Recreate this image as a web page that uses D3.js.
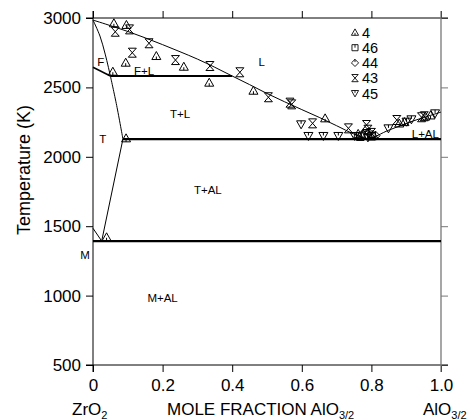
<!DOCTYPE html>
<html><head><meta charset="utf-8">
<script src="https://cdn.jsdelivr.net/npm/d3@7/dist/d3.min.js"></script>
<style>
body{margin:0;background:#fff;}
svg{display:block;font-family:"Liberation Sans",Arial,sans-serif;}
text{fill:#000;}
</style></head>
<body><svg id="c" width="471" height="420"></svg>
<script>
// ---- data ----
const xTicks = [0, 0.2, 0.4, 0.6, 0.8, 1.0];
const xTickLabels = ["0", "0.2", "0.4", "0.6", "0.8", "1.0"];
const yTicks = [500, 1000, 1500, 2000, 2500, 3000];

// phase boundaries [x, T]
const liquidus = [[0,2985],[0.05,2945],[0.10,2903],[0.15,2857],[0.20,2808],[0.25,2757],[0.30,2704],[0.35,2645],[0.40,2582],[0.45,2520],[0.50,2456],[0.55,2397],[0.60,2340],[0.65,2284],[0.70,2224],[0.75,2164],[0.79,2132],[0.85,2192],[0.92,2258],[1.0,2322]];
const fSolidus = [[0,2985],[0.02,2870],[0.035,2740],[0.05,2582]];
const fTBoundary = [[0,2645],[0.05,2582]];
const tSolidus = [[0.05,2582],[0.068,2370],[0.086,2128]];
const tSolvus = [[0.086,2128],[0.025,1393]];
const mTBoundary = [[0,1485],[0.025,1393]];
const peritecticLine = [[0.05,2582],[0.40,2582]];
const eutecticLine = [[0.086,2128],[1.0,2128]];
const eutectoidLine = [[0,1393],[1.0,1393]];

// experimental series [x, T]
const series4 = [[0.060,2962],[0.096,2950],[0.182,2726],[0.094,2678],[0.261,2649],[0.057,2613],[0.334,2534],[0.461,2476],[0.667,2277],[0.095,2133],[0.039,1420],[0.762,2165],[0.805,2160],[0.880,2240],[0.895,2250],[0.955,2290],[0.970,2298]];
const series46 = [[0.768,2145],[0.782,2158],[0.800,2148]];
const series44 = [[0.775,2162],[0.792,2175],[0.812,2152]];
const series43 = [[0.064,2901],[0.105,2918],[0.161,2818],[0.113,2750],[0.237,2697],[0.336,2654],[0.422,2609],[0.504,2429],[0.566,2390],[0.571,2378],[0.631,2241],[0.734,2205],[0.786,2229],[0.790,2195],[0.800,2172],[0.873,2265],[0.944,2285],[0.952,2292]];
const series45 = [[0.598,2234],[0.619,2150],[0.662,2150],[0.705,2150],[0.752,2150],[0.790,2140],[0.849,2205],[0.901,2253],[0.915,2270],[0.983,2313]];
const legendNames = ["4","46","44","43","45"];

// phase labels
const phaseLabels = [["F",0.022,2680],["F+L",0.147,2620],["L",0.485,2680],["T+L",0.25,2310],["T",0.028,2130],["T+AL",0.33,1760],["M",-0.023,1290],["M+AL",0.20,980],["L+AL",0.955,2166]];

// ---- chart ----
const svg = d3.select("#c");
const x = d3.scaleLinear().domain([0,1]).range([93,441]);
const y = d3.scaleLinear().domain([500,3000]).range([365,18]);
const tk = 7;

// axes (ticks outward)
const gB = svg.append("g").attr("transform","translate(0,365)")
  .call(d3.axisBottom(x).tickValues(xTicks).tickFormat((d,i)=>xTickLabels[i]).tickSize(tk).tickSizeOuter(0).tickPadding(7));
const gL = svg.append("g").attr("transform","translate(93,0)")
  .call(d3.axisLeft(y).tickValues(yTicks).tickFormat(d3.format("d")).tickSize(tk).tickSizeOuter(0).tickPadding(5));
const gT = svg.append("g").attr("transform","translate(0,18)")
  .call(d3.axisTop(x).tickValues(xTicks).tickFormat("").tickSize(tk).tickSizeOuter(0));
const gR = svg.append("g").attr("transform","translate(441,0)")
  .call(d3.axisRight(y).tickValues(yTicks).tickFormat("").tickSize(tk).tickSizeOuter(0));
[gB,gL,gT,gR].forEach(g=>{g.select(".domain").remove();g.selectAll("line").attr("stroke","#000").attr("stroke-width",1);
  g.selectAll("text").attr("font-size",17).attr("fill","#000").attr("font-family","Liberation Sans, Arial, sans-serif");});
gR.selectAll("line").attr("stroke","#777");

// frame lines extending past corners
const fr = svg.append("g").attr("fill","none");
fr.append("line").attr("x1",x(0)-tk).attr("x2",x(1)+tk).attr("y1",y(500)).attr("y2",y(500)).attr("stroke","#000");
fr.append("line").attr("x1",x(0)).attr("x2",x(0)).attr("y1",y(3000)-tk).attr("y2",y(500)+tk).attr("stroke","#000");
fr.append("line").attr("x1",x(0)-tk).attr("x2",x(1)+tk).attr("y1",y(3000)).attr("y2",y(3000)).attr("stroke","#000");
fr.append("line").attr("x1",x(1)).attr("x2",x(1)).attr("y1",y(3000)-tk).attr("y2",y(500)+tk).attr("stroke","#777").attr("stroke-width",1.3);

// boundaries
const line = d3.line().x(d=>x(d[0])).y(d=>y(d[1]));
const smooth = d3.line().x(d=>x(d[0])).y(d=>y(d[1])).curve(d3.curveCatmullRom);
const lg = svg.append("g").attr("fill","none").attr("stroke","#000");
lg.append("path").attr("d",smooth(liquidus)).attr("stroke-width",1);
lg.append("path").attr("d",smooth(fSolidus)).attr("stroke-width",1);
lg.append("path").attr("d",line(fTBoundary)).attr("stroke-width",1.5);
lg.append("path").attr("d",smooth(tSolidus)).attr("stroke-width",1);
lg.append("path").attr("d",line(tSolvus)).attr("stroke-width",1);
lg.append("path").attr("d",line(mTBoundary)).attr("stroke-width",1);
lg.append("path").attr("d",line(peritecticLine)).attr("stroke-width",2.2);
lg.append("path").attr("d",line(eutecticLine)).attr("stroke-width",2.2);
lg.append("path").attr("d",line(eutectoidLine)).attr("stroke-width",2.2);

// markers
const sym = {
  "4":  "M0,-4.5L4.5,3.5L-4.5,3.5Z M0,0.5V3.5",
  "46": "M-3.8,-3.8H3.8V3.8H-3.8Z M0,-3.8V0",
  "44": "M0,-4.5L4.5,0L0,4.5L-4.5,0Z M0,-4.5V-1",
  "43": "M-4,-4.5H4L-4,4.5H4Z",
  "45": "M-4.5,-3.5H4.5L0,4.5Z M0,-3.5V-0.5"
};
const allSeries = {"4":series4,"46":series46,"44":series44,"43":series43,"45":series45};
const mg = svg.append("g").attr("fill","none").attr("stroke","#000").attr("stroke-width",1);
legendNames.forEach(k=>{
  mg.selectAll(null).data(allSeries[k]).enter().append("path")
    .attr("transform",d=>`translate(${x(d[0])},${y(d[1])})`).attr("d",sym[k]);
});

// legend
const leg = svg.append("g");
legendNames.forEach((k,i)=>{
  const cy = 32.5 + i*15.2;
  leg.append("path").attr("transform",`translate(355,${cy}) scale(0.8)`).attr("d",sym[k])
    .attr("fill","none").attr("stroke","#000").attr("stroke-width",1.1);
  leg.append("text").attr("x",362).attr("y",cy).attr("dy","0.36em").attr("font-size",14.5).attr("fill","#000").text(k);
});

// phase labels
svg.append("g").selectAll("text").data(phaseLabels).enter().append("text")
  .attr("x",d=>x(d[1])).attr("y",d=>y(d[2])).attr("text-anchor","middle").attr("dy","0.35em")
  .attr("font-size",11.5).attr("fill","#000").text(d=>d[0]);

// axis titles
const xt = svg.append("text").attr("x",167).attr("y",415).attr("font-size",17);
xt.append("tspan").text("MOLE FRACTION AlO");
xt.append("tspan").attr("font-size",11).attr("dy",4).text("3/2");
const zt = svg.append("text").attr("x",72).attr("y",415).attr("font-size",17);
zt.append("tspan").text("ZrO");
zt.append("tspan").attr("font-size",11).attr("dy",4).text("2");
const at = svg.append("text").attr("x",423).attr("y",415).attr("font-size",17);
at.append("tspan").text("AlO");
at.append("tspan").attr("font-size",11).attr("dy",4).text("3/2");
svg.append("text").attr("transform","translate(30,170) rotate(-90)").attr("text-anchor","middle")
  .attr("font-size",18).text("Temperature (K)");
</script></body></html>
